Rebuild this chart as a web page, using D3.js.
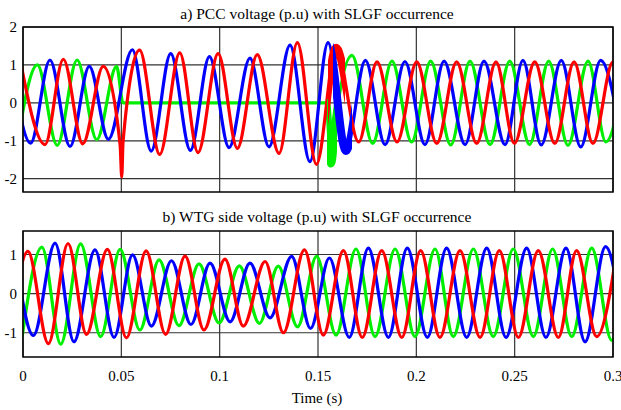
<!DOCTYPE html>
<html>
<head>
<meta charset="utf-8">
<script src="https://cdn.jsdelivr.net/npm/d3@7"></script>
<style>
  body { margin: 0; background: #fff; }
  svg text { font-family: "Liberation Serif", "Times New Roman", serif; fill: #000; }
</style>
</head>
<body>
<div id="plot"></div>
<script>
// extrema of each phase, [time (s), voltage (p.u)]
var pccRed = [[-0.0015,1.15],[0.0112,-1.1],[0.0205,1.15],[0.0304,-1.08],[0.0408,0.96],[0.0494,-1.12],[0.0502,-1.95],
  [0.0509,-1.0],[0.0593,1.39],[0.0695,-1.36],[0.0797,1.32],[0.089,-1.31],[0.0992,1.3],[0.109,-1.2],[0.1191,1.27],
  [0.1302,-1.33],[0.1395,1.59],[0.1492,-1.62],[0.1592,1.45],[0.1707,-1.03],[0.18,1.08],[0.1902,-1.03],[0.2002,1.08],
  [0.2104,-1.07],[0.2205,1.08],[0.2307,-1.07],[0.2405,1.08],[0.2499,-1.07],[0.2602,1.08],[0.2704,-1.07],[0.2802,1.08],
  [0.2898,-1.07],[0.3,1.08],[0.3102,-1.07]];
var pccBlue = [[-0.0061,1.1],[0.0039,-1.06],[0.0137,1.13],[0.0239,-1.15],[0.0337,0.96],[0.0434,-0.96],[0.0556,1.4],
  [0.0652,-1.27],[0.0751,1.3],[0.0851,-1.25],[0.0948,1.22],[0.1048,-1.18],[0.1154,1.18],[0.1251,-1.16],[0.1358,1.52],
  [0.1459,-1.55],[0.1551,1.59],[0.1642,-1.27],[0.1741,1.12],[0.1841,-1.1],[0.1942,1.09],[0.2044,-1.1],[0.2141,1.1],
  [0.2248,-1.1],[0.2344,1.1],[0.2451,-1.1],[0.2542,1.12],[0.2635,-1.11],[0.2737,1.12],[0.2836,-1.16],[0.2937,1.12],
  [0.3046,-1.1]];
var pccGreen = [[-0.0029,-1.05],[0.0073,1.0],[0.0174,-1.12],[0.0275,1.13],[0.0375,-0.97],[0.0476,0.96],[0.0509,0],
  [0.1541,0],[0.1566,-1.6],[0.1592,-0.4],[0.1673,1.25],[0.1778,-1.07],[0.1876,1.1],[0.1976,-1.03],[0.2073,1.1],
  [0.2175,-1.11],[0.2273,1.1],[0.2375,-1.1],[0.2475,1.1],[0.2576,-1.1],[0.2673,1.1],[0.2771,-1.12],[0.2873,1.1],
  [0.2964,-1.03],[0.3066,1.1]];

var wtgRed = [[-0.0071,-1.2],[0.0025,1.08],[0.0129,-1.28],[0.0229,1.28],[0.0323,-1.04],[0.0429,1.13],[0.0526,-1.13],
  [0.0626,1.09],[0.0725,-1.04],[0.0824,0.96],[0.092,-0.93],[0.1027,0.88],[0.112,-0.83],[0.1231,0.82],[0.1324,-1.0],
  [0.1431,1.12],[0.1527,-1.06],[0.1629,1.1],[0.1725,-1.12],[0.1824,1.1],[0.1926,-1.12],[0.2022,1.1],[0.212,-1.12],
  [0.2222,1.1],[0.2324,-1.12],[0.2422,1.1],[0.2519,-1.12],[0.262,1.1],[0.2722,-1.12],[0.2815,1.1],[0.2917,-1.1],
  [0.302,1.1]];
var wtgBlue = [[-0.0046,1.2],[0.0053,-1.07],[0.0163,1.29],[0.0259,-1.23],[0.0366,1.12],[0.0463,-1.12],[0.0557,0.99],
  [0.0653,-0.83],[0.0755,0.84],[0.0854,-0.79],[0.0951,0.78],[0.1053,-0.72],[0.1154,0.78],[0.1256,-0.62],[0.1366,0.95],
  [0.1462,-0.89],[0.1558,0.91],[0.1659,-1.12],[0.1756,1.16],[0.1858,-1.12],[0.1954,1.16],[0.2056,-1.12],[0.2154,1.16],
  [0.2256,-1.12],[0.2358,1.16],[0.2456,-1.12],[0.2561,1.16],[0.2659,-1.12],[0.2761,1.16],[0.2858,-1.23],[0.2962,1.2],
  [0.3061,-1.1]];
var wtgGreen = [[-0.0005,-1.12],[0.0096,1.19],[0.0192,-1.29],[0.0293,1.27],[0.0395,-1.1],[0.0494,1.13],[0.0594,-0.93],
  [0.0692,0.86],[0.0793,-0.82],[0.0895,0.76],[0.0997,-0.75],[0.11,0.71],[0.1202,-0.76],[0.1298,0.7],[0.1396,-0.85],
  [0.1493,0.95],[0.1592,-1.06],[0.1693,1.14],[0.179,-1.1],[0.1892,1.14],[0.1993,-1.1],[0.2095,1.14],[0.2188,-1.1],
  [0.229,1.14],[0.2391,-1.1],[0.2493,1.14],[0.2595,-1.1],[0.2693,1.14],[0.279,-1.1],[0.2892,1.16],[0.2993,-1.19],
  [0.3092,1.1]];

// time windows where the trace is a dense ripple band after fault clearing
var pccBands = [["green", 0.1546, 0.1597], ["red", 0.1551, 0.1637], ["blue", 0.1576, 0.1673]];

var xTicks = [0, 0.05, 0.1, 0.15, 0.2, 0.25, 0.3];
var xTickLabels = ["0", "0.05", "0.1", "0.15", "0.2", "0.25", "0.3"];
var pccTicks = [2, 1, 0, -1, -2];
var wtgTicks = [1, 0, -1];
var titles = ["a) PCC voltage (p.u) with SLGF occurrence", "b) WTG side voltage (p.u) with SLGF occurrence"];
var xLabel = "Time (s)";

var colors = { red: "#ff0000", blue: "#0000ff", green: "#00ee00" };

var svg = d3.select("#plot").append("svg")
    .attr("width", 621)
    .attr("height", 410);

var x = d3.scaleLinear().domain([0, 0.3]).range([23, 613]);

var panels = [
    { id: "pcc", y: d3.scaleLinear().domain([-2.35, 2]).range([192, 27]), ticks: pccTicks,
      series: [["green", pccGreen], ["blue", pccBlue], ["red", pccRed]], bands: pccBands,
      title: titles[0], titleY: 19 },
    { id: "wtg", y: d3.scaleLinear().domain([-1.62, 1.6]).range([357, 231]), ticks: wtgTicks,
      series: [["green", wtgGreen], ["blue", wtgBlue], ["red", wtgRed]], bands: [],
      title: titles[1], titleY: 222 }
];

var defs = svg.append("defs");

panels.forEach(function(p) {
    var y = p.y;
    var g = svg.append("g");
    var top = y.range()[1], bottom = y.range()[0];

    defs.append("clipPath").attr("id", "clip_" + p.id)
        .append("rect")
        .attr("x", x(0)).attr("y", top)
        .attr("width", x(0.3) - x(0)).attr("height", bottom - top);

    // grid
    g.selectAll(".hgrid").data(p.ticks).enter().append("line")
        .attr("x1", x(0)).attr("x2", x(0.3))
        .attr("y1", function(d){ return y(d); })
        .attr("y2", function(d){ return y(d); })
        .style("stroke", "#333").style("stroke-width", 1.2);
    g.selectAll(".vgrid").data(xTicks).enter().append("line")
        .attr("x1", function(d){ return x(d); })
        .attr("x2", function(d){ return x(d); })
        .attr("y1", top).attr("y2", bottom)
        .style("stroke", "#333").style("stroke-width", 1.2);

    var line = d3.line()
        .x(function(d){ return x(d[0]); })
        .y(function(d){ return y(d[1]); })
        .curve(d3.curveMonotoneX);

    var lines = g.append("g").attr("clip-path", "url(#clip_" + p.id + ")");
    p.series.forEach(function(s) {
        lines.append("path")
            .attr("d", line(s[1]))
            .style("fill", "none")
            .style("stroke", colors[s[0]])
            .style("stroke-width", 3.2)
            .style("stroke-linejoin", "round");
    });

    p.bands.forEach(function(b, i) {
        var cid = "band_" + p.id + "_" + i;
        defs.append("clipPath").attr("id", cid)
            .append("rect")
            .attr("x", x(b[1])).attr("y", top)
            .attr("width", x(b[2]) - x(b[1])).attr("height", bottom - top);
        var data = p.series.filter(function(s){ return s[0] === b[0]; })[0][1];
        lines.append("g").attr("clip-path", "url(#" + cid + ")")
            .append("path")
            .attr("d", line(data))
            .style("fill", "none")
            .style("stroke", colors[b[0]])
            .style("stroke-width", 8)
            .style("stroke-linejoin", "round");
    });

    // frame
    g.append("rect")
        .attr("x", x(0)).attr("y", top)
        .attr("width", x(0.3) - x(0)).attr("height", bottom - top)
        .style("fill", "none").style("stroke", "#000").style("stroke-width", 1.5);

    g.selectAll(".ylab").data(p.ticks).enter().append("text")
        .attr("x", 17)
        .attr("y", function(d){ return y(d); })
        .attr("dy", "0.35em")
        .attr("text-anchor", "end")
        .style("font-size", "15px")
        .text(function(d){ return d < 0 ? "-" + Math.abs(d) : d; });

    svg.append("text")
        .attr("x", 317).attr("y", p.titleY)
        .attr("text-anchor", "middle")
        .style("font-size", "15.5px")
        .text(p.title);
});

svg.selectAll(".xlab").data(xTicks).enter().append("text")
    .attr("x", function(d){ return x(d); })
    .attr("y", 381)
    .attr("text-anchor", "middle")
    .style("font-size", "15px")
    .text(function(d, i){ return xTickLabels[i]; });

svg.append("text")
    .attr("x", 317).attr("y", 403)
    .attr("text-anchor", "middle")
    .style("font-size", "15px")
    .text(xLabel);
</script>
</body>
</html>
